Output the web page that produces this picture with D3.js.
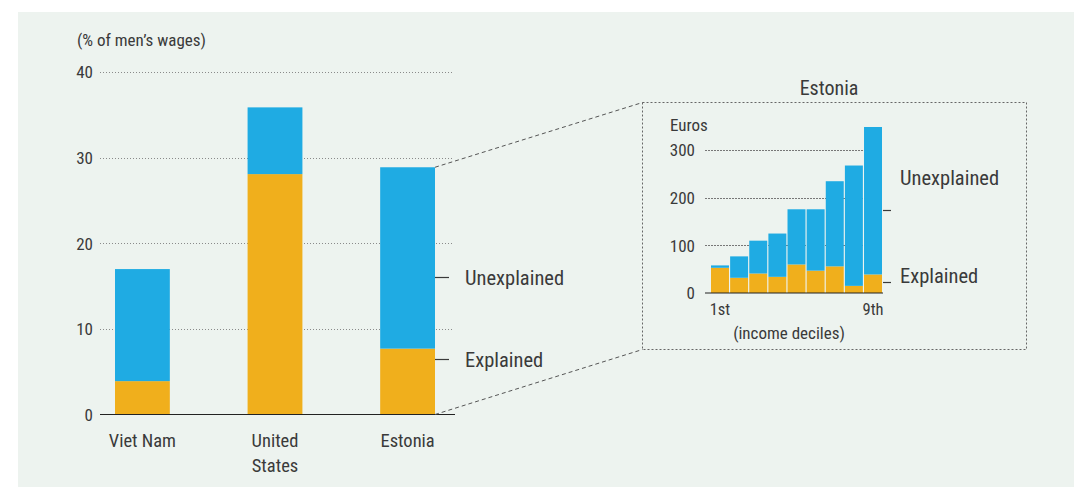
<!DOCTYPE html>
<html>
<head>
<meta charset="utf-8">
<script src="https://cdn.jsdelivr.net/npm/d3@7"></script>
<style>
  html, body { margin: 0; padding: 0; background: #ffffff; }
  svg { display: block; }
  text { font-family: "Roboto Condensed", "Liberation Sans Narrow", "DejaVu Sans Condensed", Roboto, sans-serif; fill: #3a3a3a; }
</style>
</head>
<body>
<svg id="chart" width="1075" height="487"></svg>
<script>
// Gender wage gap, split into explained and unexplained parts
const countries = ["Viet Nam", "United States", "Estonia"];
const countryLabels = [["Viet Nam"], ["United", "States"], ["Estonia"]];
const explained = [3.9, 28.1, 7.7];
const unexplained = [13.1, 7.8, 21.2];
const mainTicks = [0, 10, 20, 30, 40];

// Estonia: gap in euros by income decile
const deciles = ["1st", "2nd", "3rd", "4th", "5th", "6th", "7th", "8th", "9th"];
const decileExplained = [53, 32, 41, 34, 60, 47, 56, 15, 39];
const decileUnexplained = [5, 45, 69, 91, 116, 129, 179, 253, 310];
const insetTicks = [0, 100, 200, 300];
const decileLabels = ["1st", "9th"];

const BLUE = "#1fabe3";
const ORANGE = "#f0af1c";
const INK = "#3a3a3a";

const svg = d3.select("#chart");

// panel background
svg.append("rect").attr("x", 18).attr("y", 12).attr("width", 1056).attr("height", 475)
  .attr("fill", "#edf3ef");

// ---------- main chart ----------
const y = d3.scaleLinear().domain([0, 40]).range([414.5, 72.3]);
const x = d3.scaleBand().domain(countries).range([115, 435]).paddingInner(0.5865).paddingOuter(0);

const grid = svg.append("g");
grid.selectAll("line").data(mainTicks.filter(d => d > 0)).join("line")
  .attr("x1", 100).attr("x2", 452)
  .attr("y1", d => Math.round(y(d)) + 0.5).attr("y2", d => Math.round(y(d)) + 0.5)
  .attr("stroke", "#8a8a8a").attr("stroke-width", 1).attr("stroke-dasharray", "1,2");

svg.append("g").selectAll("text").data(mainTicks).join("text")
  .attr("x", 93).attr("y", d => y(d)).attr("dy", "0.36em")
  .attr("text-anchor", "end").attr("font-size", 17).text(d => d);

svg.append("text").attr("x", 77).attr("y", 40).attr("dy", "0.36em")
  .attr("font-size", 17).text("(% of men\u2019s wages)");

const rows = countries.map((c, i) => ({ c, e: explained[i], u: unexplained[i] }));
const bars = svg.append("g");
bars.selectAll("rect.exp").data(rows).join("rect").attr("class", "exp")
  .attr("x", d => x(d.c)).attr("width", x.bandwidth())
  .attr("y", d => y(d.e)).attr("height", d => y(0) - y(d.e)).attr("fill", ORANGE);
bars.selectAll("rect.unexp").data(rows).join("rect").attr("class", "unexp")
  .attr("x", d => x(d.c)).attr("width", x.bandwidth())
  .attr("y", d => y(d.e + d.u)).attr("height", d => y(d.e) - y(d.e + d.u)).attr("fill", BLUE);

svg.append("line").attr("x1", 100).attr("x2", 455).attr("y1", y(0)).attr("y2", y(0))
  .attr("stroke", "#222").attr("stroke-width", 1.2);

countries.forEach((c, i) => {
  const t = svg.append("text").attr("x", x(c) + x.bandwidth() / 2).attr("y", 440.7)
    .attr("text-anchor", "middle").attr("font-size", 18.5);
  countryLabels[i].forEach((line, j) => {
    t.append("tspan").attr("x", x(c) + x.bandwidth() / 2).attr("dy", j === 0 ? "0.36em" : 25).text(line);
  });
});

// legend beside the Estonia bar
const est = rows[2];
const xEst = x("Estonia") + x.bandwidth();
[["Unexplained", 277.5], ["Explained", 359.5]].forEach(([label, ly]) => {
  svg.append("line").attr("x1", xEst).attr("x2", xEst + 14).attr("y1", ly).attr("y2", ly)
    .attr("stroke", INK).attr("stroke-width", 1.2);
  svg.append("text").attr("x", 465).attr("y", ly).attr("dy", "0.36em")
    .attr("font-size", 20.5).text(label);
});

// ---------- inset: Estonia by decile ----------
const box = { x0: 642.5, y0: 102.5, x1: 1026.5, y1: 349.5 };

// connectors from the Estonia bar to the inset frame
svg.append("line").attr("x1", xEst).attr("y1", y(est.e + est.u)).attr("x2", box.x0).attr("y2", box.y0)
  .attr("stroke", "#555").attr("stroke-width", 1).attr("stroke-dasharray", "4,3");
svg.append("line").attr("x1", xEst).attr("y1", y(0)).attr("x2", box.x0).attr("y2", box.y1)
  .attr("stroke", "#555").attr("stroke-width", 1).attr("stroke-dasharray", "4,3");

svg.append("rect").attr("x", box.x0).attr("y", box.y0)
  .attr("width", box.x1 - box.x0).attr("height", box.y1 - box.y0)
  .attr("fill", "none").attr("stroke", "#666").attr("stroke-width", 1).attr("stroke-dasharray", "2,2");

svg.append("text").attr("x", 829).attr("y", 88).attr("dy", "0.36em")
  .attr("text-anchor", "middle").attr("font-size", 20).text("Estonia");

const yi = d3.scaleLinear().domain([0, 300]).range([293, 150.3]);
const xi = d3.scaleBand().domain(deciles).range([711, 882]).paddingInner(0.06);

svg.append("g").selectAll("line").data(insetTicks.filter(d => d > 0)).join("line")
  .attr("x1", 705).attr("x2", 882)
  .attr("y1", d => Math.round(yi(d)) + 0.5).attr("y2", d => Math.round(yi(d)) + 0.5)
  .attr("stroke", "#777").attr("stroke-width", 1).attr("stroke-dasharray", "2,1");

svg.append("g").selectAll("text").data(insetTicks).join("text")
  .attr("x", 695).attr("y", d => yi(d)).attr("dy", "0.36em")
  .attr("text-anchor", "end").attr("font-size", 17).text(d => d);

svg.append("text").attr("x", 670).attr("y", 125).attr("dy", "0.36em")
  .attr("font-size", 17).text("Euros");

const drows = deciles.map((d, i) => ({ d, e: decileExplained[i], u: decileUnexplained[i] }));
const ib = svg.append("g");
ib.selectAll("rect.exp").data(drows).join("rect").attr("class", "exp")
  .attr("x", d => xi(d.d)).attr("width", xi.bandwidth())
  .attr("y", d => yi(d.e)).attr("height", d => yi(0) - yi(d.e)).attr("fill", ORANGE);
ib.selectAll("rect.unexp").data(drows).join("rect").attr("class", "unexp")
  .attr("x", d => xi(d.d)).attr("width", xi.bandwidth())
  .attr("y", d => yi(d.e + d.u)).attr("height", d => yi(d.e) - yi(d.e + d.u)).attr("fill", BLUE);

svg.append("line").attr("x1", 705).attr("x2", 883).attr("y1", yi(0)).attr("y2", yi(0))
  .attr("stroke", "#222").attr("stroke-width", 1.2);

svg.append("g").selectAll("text").data(decileLabels).join("text")
  .attr("x", d => xi(d) + xi.bandwidth() / 2).attr("y", 309).attr("dy", "0.36em")
  .attr("text-anchor", "middle").attr("font-size", 16.5).text(d => d);

svg.append("text").attr("x", 789).attr("y", 333).attr("dy", "0.36em")
  .attr("text-anchor", "middle").attr("font-size", 17).text("(income deciles)");

// inset legend
[["Unexplained", 210.5, 178], ["Explained", 282.5, 276]].forEach(([label, ty, ly]) => {
  svg.append("line").attr("x1", 883).attr("x2", 891).attr("y1", ty).attr("y2", ty)
    .attr("stroke", INK).attr("stroke-width", 1.2);
  svg.append("text").attr("x", 900).attr("y", ly).attr("dy", "0.36em")
    .attr("font-size", 20.5).text(label);
});
</script>
</body>
</html>
